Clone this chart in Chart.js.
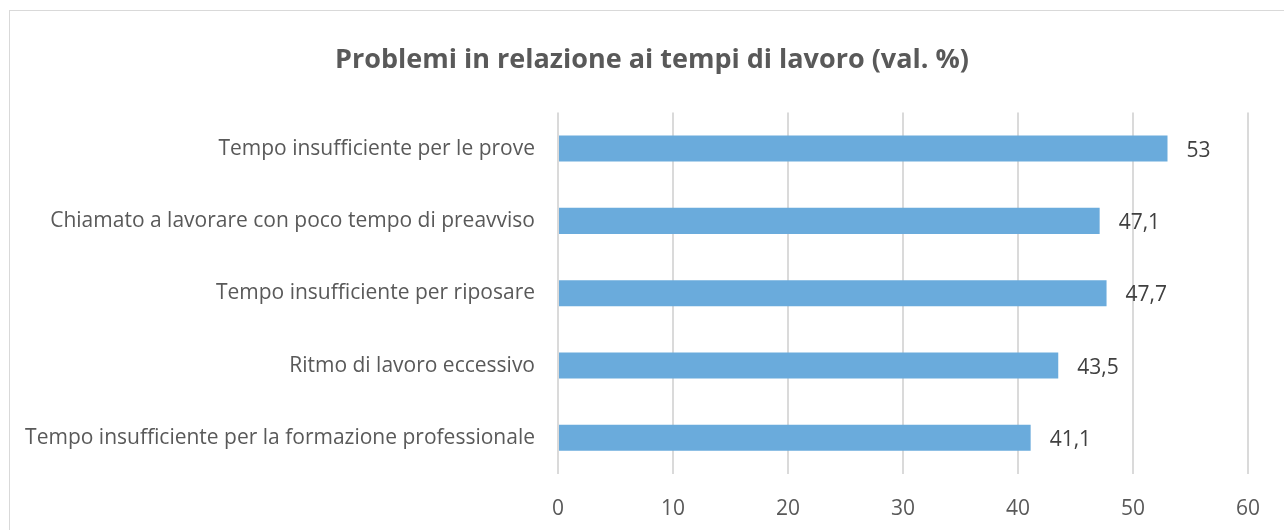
<!DOCTYPE html>
<html>
<head>
<meta charset="utf-8">
<script src="https://cdn.jsdelivr.net/npm/chart.js@4/dist/chart.umd.min.js"></script>
<style>
    html, body { margin: 0; padding: 0; background: #fff; overflow: hidden; }
    #wrap { position: relative; width: 1284px; height: 530px; }
    #frame { position: absolute; left: 9px; top: 10px; width: 1300px; height: 600px;
             border: 1px solid #d9d9d9; pointer-events: none; }
    canvas { position: absolute; left: 0; top: 0; }
</style>
</head>
<body>
<div id="wrap">
    <div id="frame"></div>
    <canvas id="myChart" width="1284" height="530"></canvas>
</div>
<script>
const categories = [
    'Tempo insufficiente per le prove',
    'Chiamato a lavorare con poco tempo di preavviso',
    'Tempo insufficiente per riposare',
    'Ritmo di lavoro eccessivo',
    'Tempo insufficiente per la formazione professionale'
];
const values = [53, 47.1, 47.7, 43.5, 41.1];
const xTicks = [0, 10, 20, 30, 40, 50, 60];

const fontFamily = '"Open Sans", "DejaVu Sans", sans-serif';

// writes the value next to each bar, comma as decimal mark
const valueLabels = {
    id: 'valueLabels',
    afterDatasetsDraw(chart) {
        const c = chart.ctx;
        const meta = chart.getDatasetMeta(0);
        c.save();
        c.font = '21px ' + fontFamily;
        c.fillStyle = '#404040';
        c.textAlign = 'left';
        c.textBaseline = 'middle';
        meta.data.forEach((bar, i) => {
            const txt = String(values[i]).replace('.', ',');
            c.fillText(txt, bar.x + 19, bar.y + 2);
        });
        c.restore();
    }
};

const ctx = document.getElementById('myChart').getContext('2d');

const myChart = new Chart(ctx, {
    type: 'bar',
    data: {
        labels: categories,
        datasets: [{
            data: values,
            backgroundColor: '#6aabdc',
            categoryPercentage: 1,
            barPercentage: 0.36
        }]
    },
    options: {
        indexAxis: 'y',
        responsive: false,
        animation: false,
        devicePixelRatio: 1,
        layout: { padding: { left: 20, right: 0, top: 0, bottom: 0 } },
        plugins: {
            legend: { display: false },
            tooltip: { enabled: false },
            title: {
                display: true,
                text: 'Problemi in relazione ai tempi di lavoro (val. %)',
                color: '#595959',
                font: { family: fontFamily, size: 27, weight: 'bold' },
                padding: { top: 44, bottom: 36 }
            }
        },
        scales: {
            x: {
                min: 0,
                max: 60,
                afterBuildTicks(scale) {
                    scale.ticks = xTicks.map(v => ({ value: v }));
                },
                afterFit(scale) { scale.height = 56; },
                grid: { color: '#dadada', lineWidth: 2, drawTicks: false },
                border: { display: false },
                ticks: {
                    color: '#595959',
                    padding: 22,
                    font: { family: fontFamily, size: 21 }
                }
            },
            y: {
                afterFit(scale) { scale.width = 538; },
                grid: { display: false },
                border: { display: false },
                ticks: {
                    color: '#595959',
                    padding: 15,
                    font: { family: fontFamily, size: 21 }
                }
            },
            // empty right-hand margin so the title centres like the original
            yRight: {
                position: 'right',
                afterFit(scale) { scale.width = 36; },
                grid: { display: false },
                border: { display: false },
                ticks: { display: false }
            }
        }
    },
    plugins: [valueLabels]
});
</script>
</body>
</html>
